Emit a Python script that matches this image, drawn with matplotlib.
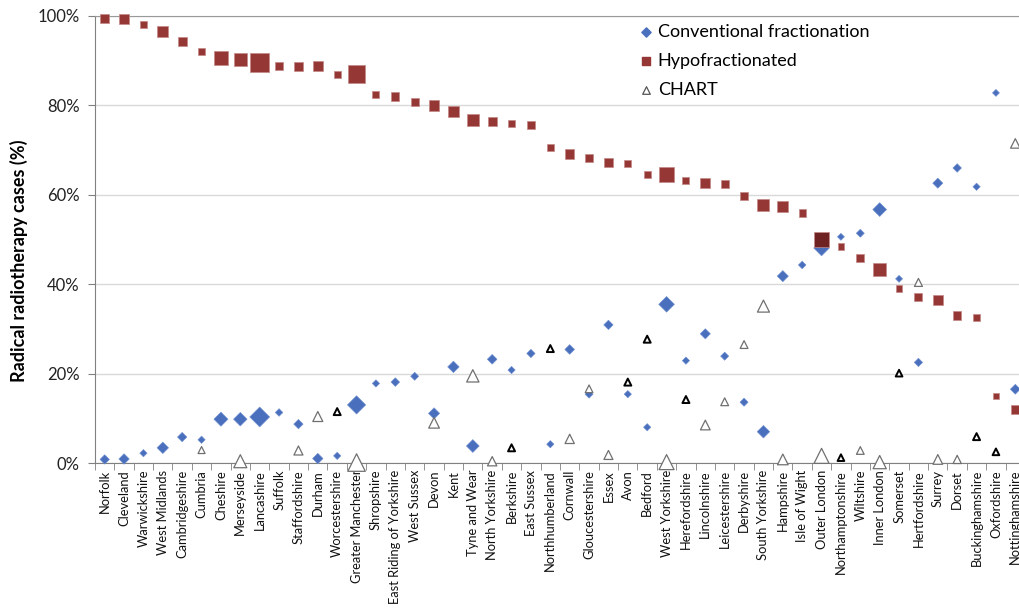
import numpy as np
import matplotlib
matplotlib.use('Agg')
import matplotlib.pyplot as plt
from matplotlib.ticker import FuncFormatter

plt.rcParams['font.family'] = ['Lato', 'DejaVu Sans']

counties = ['Norfolk', 'Cleveland', 'Warwickshire', 'West Midlands', 'Cambridgeshire',
            'Cumbria', 'Cheshire', 'Merseyside', 'Lancashire', 'Suffolk',
            'Staffordshire', 'Durham', 'Worcestershire', 'Greater Manchester', 'Shropshire',
            'East Riding of Yorkshire', 'West Sussex', 'Devon', 'Kent', 'Tyne and Wear',
            'North Yorkshire', 'Berkshire', 'East Sussex', 'Northhumberland', 'Cornwall',
            'Gloucestershire', 'Essex', 'Avon', 'Bedford', 'West Yorkshire',
            'Herefordshire', 'Lincolnshire', 'Leicestershire', 'Derbyshire', 'South Yorkshire',
            'Hampshire', 'Isle of Wight', 'Outer London', 'Northamptonshire', 'Wiltshire',
            'Inner London', 'Somerset', 'Hertfordshire', 'Surrey', 'Dorset',
            'Buckinghamshire', 'Oxfordshire', 'Nottinghamshire']

# % of radical radiotherapy cases
conventional = [0.8, 0.9, 2.2, 3.4, 5.8, 5.2, 9.8, 9.8, 10.3, 11.3,
                8.7, 1.0, 1.6, 13.0, 17.8, 18.1, 19.4, 11.1, 21.5, 3.8,
                23.2, 20.8, 24.5, 4.2, 25.4, 15.4, 30.9, 15.4, 8.0, 35.5,
                22.9, 28.9, 23.9, 13.6, 7.0, 41.8, 44.3, 48.1, 50.6, 51.4,
                56.7, 41.2, 22.5, 62.6, 66.0, 61.8, 82.8, 16.5]
hypofractionated = [99.5, 99.3, 98.0, 96.6, 94.2, 92.0, 90.6, 90.2, 89.7, 88.8,
                    88.8, 88.8, 87.0, 87.0, 82.5, 82.0, 80.7, 80.0, 78.6, 76.7,
                    76.4, 76.0, 75.6, 70.5, 69.1, 68.2, 67.3, 66.9, 64.6, 64.5,
                    63.1, 62.7, 62.4, 59.8, 57.7, 57.4, 55.9, 50.1, 48.4, 45.8,
                    43.2, 39.1, 37.1, 36.5, 33.0, 32.5, 15.0, 12.0]
chart = [np.nan, np.nan, np.nan, np.nan, np.nan, 2.9, np.nan, 0.4, np.nan, np.nan,
         2.8, 10.4, 11.5, 0.1, np.nan, np.nan, np.nan, 9.0, np.nan, 19.5,
         0.4, 3.4, np.nan, 25.6, 5.4, 16.6, 1.8, 18.1, 27.7, 0.2,
         14.2, 8.5, 13.7, 26.5, 35.1, 0.8, np.nan, 1.6, 1.2, 2.8,
         0.2, 20.1, 40.4, 0.8, 0.8, 5.9, 2.5, 71.5]
# relative marker size per county (pixels)
case_size = [9, 10, 7, 11, 9, 7, 13.5, 13, 19, 7.3,
             9, 10, 7, 17.5, 7, 8.3, 7.7, 10.7, 11, 12.3,
             9.3, 7, 8, 7, 9.3, 7.7, 9, 7, 7, 15,
             7, 9.7, 7.8, 7.8, 12, 10.7, 7.3, 15, 6.7, 7.7,
             13.2, 6.7, 8, 9.7, 8.2, 7, 6.7, 9.5]
chart_dark = ['Worcestershire', 'Berkshire', 'Northhumberland', 'Avon', 'Bedford',
              'Herefordshire', 'Northamptonshire', 'Somerset', 'Buckinghamshire', 'Oxfordshire']

x = np.arange(1, len(counties) + 1)
sz = np.array(case_size) * 0.72  # px -> pt

blue = '#4a6fbd'
red = '#953735'

fig = plt.figure(figsize=(10.2, 6.08), dpi=100)
ax = fig.add_axes([95 / 1020, 145 / 608, 930 / 1020, 447 / 608])

ax.scatter(x, conventional, s=(sz / 1.35) ** 2, marker='D', color=blue,
           edgecolors='#6f8fd0', linewidths=0.4, zorder=3, clip_on=False)
sq_col = [('#6e2222' if c == 'Outer London' else red) for c in counties]
ax.scatter(x, hypofractionated, s=sz ** 2, marker='s', c=sq_col,
           edgecolors='#c48a89', linewidths=0.5, zorder=4, clip_on=False)
tri_edge = [('black' if c in chart_dark else '#707070') for c in counties]
tri_lw = [(1.4 if c in chart_dark else 0.9) for c in counties]
ax.scatter(x, chart, s=sz ** 2, marker='^', facecolors='white',
           edgecolors=tri_edge, linewidths=tri_lw, zorder=5, clip_on=False)

# legend proxies
h1 = ax.scatter([], [], s=22, marker='D', color=blue)
h2 = ax.scatter([], [], s=30, marker='s', color=red)
h3 = ax.scatter([], [], s=30, marker='^', facecolors='white', edgecolors='#555555', linewidths=0.9)
leg = fig.legend([h1, h2, h3], ['Conventional fractionation', 'Hypofractionated', 'CHART'],
                 loc='upper left', bbox_to_anchor=(628 / 1020, 1 - 17 / 608),
                 frameon=False, fontsize=13, labelspacing=0.72, handletextpad=0.05,
                 handlelength=1.2, borderaxespad=0)

ax.set_xlim(0.5, len(counties) + 0.5)
ax.set_ylim(0, 100)
ax.set_xticks(x)
ax.set_xticklabels(counties, rotation=90, fontsize=9.3, color='#111111')
ax.set_xticks(np.arange(0.5, len(counties) + 1, 1), minor=True)
ax.tick_params(axis='x', which='major', length=0, pad=5)
ax.tick_params(axis='x', which='minor', length=5, color='#808080', direction='out')
ax.set_yticks(np.arange(0, 101, 20))
ax.yaxis.set_major_formatter(FuncFormatter(lambda v, p: '%d%%' % v))
ax.tick_params(axis='y', length=5, color='#808080', labelsize=12, pad=6, labelcolor='#222222')
ax.grid(axis='y', color='#d9d9d9', linewidth=1.0, zorder=0)
ax.set_axisbelow(True)
for side in ['left', 'bottom', 'top']:
    ax.spines[side].set_color('#808080')
ax.spines['top'].set_color('#9a9a9a')
ax.spines['right'].set_visible(False)
fig.text(19 / 1020, 1 - 261 / 608, 'Radical radiotherapy cases (%)', rotation=90,
         ha='center', va='center', fontsize=13, fontweight='bold')

fig.savefig('out.png', dpi=100)
